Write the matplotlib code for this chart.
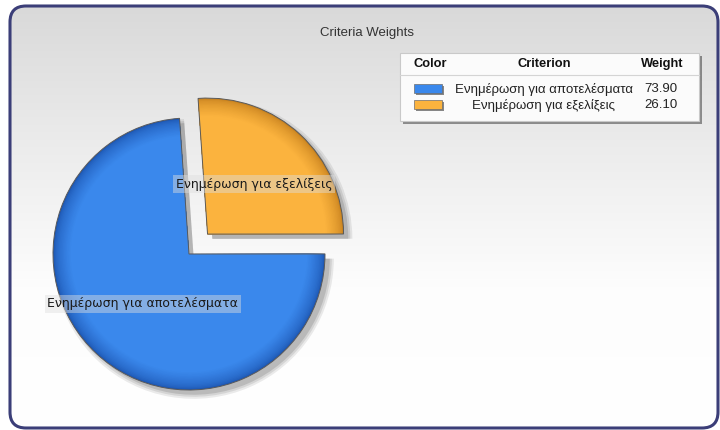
import matplotlib
matplotlib.use('Agg')
import matplotlib.pyplot as plt
import numpy as np
from matplotlib.patches import FancyBboxPatch, Rectangle
from matplotlib.colors import LinearSegmentedColormap, to_rgb

# ---- data ----
title = "Criteria Weights"
criteria = ["Ενημέρωση για αποτελέσματα", "Ενημέρωση για εξελίξεις"]
weights = [73.90, 26.10]
legend_headers = ["Color", "Criterion", "Weight"]

# ---- styles ----
base_colors = ["#3a88ec", "#fbb33e"]
rim_colors = ["#1d56b2", "#c8821f"]
explode = [0.0, 0.2]
start_angle = 94

W, H = 720, 430
fig = plt.figure(figsize=(7.2, 4.3), dpi=100)
fig.patch.set_facecolor('white')

# background axes in pixel coordinates
bg = fig.add_axes([0, 0, 1, 1])
x0, y0, x1, y1 = 10, 6, 718, 428
grad = np.linspace(0, 1, 256)[:, None]
cmap = LinearSegmentedColormap.from_list('bg', ['#d9d9d9', '#ececec', '#fdfdfd', '#ffffff'])
im = bg.imshow(grad, cmap=cmap, extent=[x0, x1, y1, y0], aspect='auto', zorder=1,
               interpolation='bilinear')
clip = FancyBboxPatch((x0, y0), x1 - x0, y1 - y0, boxstyle="round,pad=0,rounding_size=16",
                      transform=bg.transData, fc='none', ec='none')
im.set_clip_path(clip)
frame = FancyBboxPatch((x0, y0), x1 - x0, y1 - y0, boxstyle="round,pad=0,rounding_size=16",
                       fc='none', ec='#3b3e78', lw=2.2, zorder=5)
bg.add_patch(frame)
bg.set_xlim(0, W)
bg.set_ylim(H, 0)
bg.axis('off')

# title
bg.text(367, 33, title, ha='center', va='center', fontsize=9.5,
        family='Liberation Sans', color='#333333', zorder=6)

# ---- pie ----
cx, cy, R = 189, 254, 136
S = 200
pax = fig.add_axes([(cx - S) / W, (H - cy - S) / H, 2 * S / W, 2 * S / H])
pax.patch.set_alpha(0)

# soft shadow
for k, a in enumerate([0.08, 0.09, 0.12]):
    pax.pie(weights, explode=explode, startangle=start_angle, colors=['#000000'] * 2,
            radius=1.0 + 0.015 * (2 - k), center=(0.035, -0.035),
            wedgeprops=dict(alpha=a, lw=0))

# shaded layers
n = 14
for i in range(n):
    t = i / (n - 1)
    r = 1.0 - 0.13 * t
    m = t ** 0.6
    cols = [tuple(np.array(to_rgb(rc)) * (1 - m) + np.array(to_rgb(bc)) * m)
            for rc, bc in zip(rim_colors, base_colors)]
    pax.pie(weights, explode=explode, startangle=start_angle, colors=cols,
            radius=r, wedgeprops=dict(lw=0))

# outline + labels
pax.pie(weights, explode=explode, startangle=start_angle, radius=1.0,
        labels=criteria, labeldistance=0.5,
        wedgeprops=dict(fill=False, edgecolor='#5a5a5a', lw=0.7),
        textprops=dict(ha='center', va='center', fontsize=9, family='DejaVu Sans',
                       color='#1a1a1a',
                       bbox=dict(boxstyle='square,pad=0.2', fc='#dedede', alpha=0.45, ec='none')))
L = S / R
pax.set_xlim(-L, L)
pax.set_ylim(-L, L)
pax.axis('off')

# ---- legend table ----
lx0, ly0, lx1, ly1 = 400, 53, 699, 121
bg.add_patch(Rectangle((lx0 + 3, ly0 + 3), lx1 - lx0, ly1 - ly0, fc='#000000', alpha=0.4,
                       ec='none', zorder=6))
bg.add_patch(Rectangle((lx0, ly0), lx1 - lx0, ly1 - ly0, fc='#fbfbfb', ec='#c9c9c9',
                       lw=0.8, zorder=7))
bg.plot([lx0, lx1], [75, 75], color='#d4d4d4', lw=0.8, zorder=8)
hx = [430, 544, 662]
for x, h in zip(hx, legend_headers):
    bg.text(x, 64, h, ha='center', va='center', fontsize=9.3, fontweight='bold',
            family='Liberation Sans', color='#111111', zorder=8)
row_y = [89, 105]
for y, name, w, c in zip(row_y, criteria, weights, base_colors):
    bg.add_patch(Rectangle((415.5, y - 3.5), 28, 9, fc='#555555', ec='none', alpha=0.7, zorder=8))
    bg.add_patch(Rectangle((414, y - 5), 28, 9, fc=c, ec='#6d6d6d', lw=0.5, zorder=9))
    bg.text(544, y, name, ha='center', va='center', fontsize=9.5,
            family='Liberation Sans', color='#222222', zorder=9)
    bg.text(661, y, f"{w:.2f}", ha='center', va='center', fontsize=9.5,
            family='Liberation Sans', color='#222222', zorder=9)

fig.savefig('out.png', dpi=100)
